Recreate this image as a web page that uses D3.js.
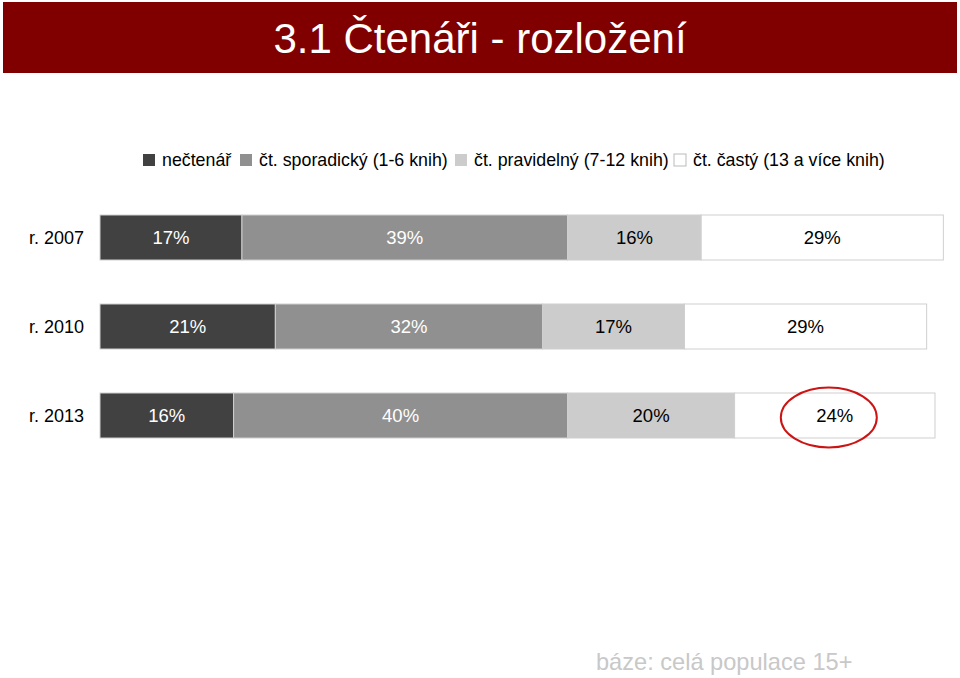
<!DOCTYPE html>
<html>
<head>
<meta charset="utf-8">
<script src="https://cdn.jsdelivr.net/npm/d3@7"></script>
<style>
  body { margin: 0; background: #fff; }
  svg { display: block; font-family: "Liberation Sans", Arial, sans-serif; }
</style>
</head>
<body>
<div id="chart"></div>
<script>
// Data
const years = ["r. 2007", "r. 2010", "r. 2013"];
const categories = ["nečtenář", "čt. sporadický (1-6 knih)", "čt. pravidelný (7-12 knih)", "čt. častý (13 a více knih)"];
const necteni = [17, 21, 16];
const sporadicky = [39, 32, 40];
const pravidelny = [16, 17, 20];
const casty = [29, 29, 24];
const titleText = "3.1 Čtenáři - rozložení";
const noteText = "báze: celá populace 15+";

const colors = ["#414141", "#909090", "#cccccc", "#ffffff"];
const labelColors = ["#ffffff", "#ffffff", "#000000", "#000000"];

const width = 960, height = 678;
const margin = { top: 215, left: 100, right: 25 };
const bh = 45;      // bar height
const step = 89;    // distance between bars

const svg = d3.select("#chart")
    .append("svg")
    .attr("width", width)
    .attr("height", height);

// Title band
svg.append("rect")
    .attr("x", 3).attr("y", 2)
    .attr("width", 954).attr("height", 71)
    .attr("fill", "#800000");

svg.append("text")
    .attr("x", width / 2)
    .attr("y", 53)
    .attr("text-anchor", "middle")
    .attr("fill", "#fff")
    .style("font-size", "42px")
    .text(titleText);

// Build stacked rows
const table = years.map((y, i) => ({
    year: y,
    necteni: necteni[i],
    sporadicky: sporadicky[i],
    pravidelny: pravidelny[i],
    casty: casty[i]
}));
const keys = ["necteni", "sporadicky", "pravidelny", "casty"];
const series = d3.stack().keys(keys)(table);

// Scales
const x = d3.scaleLinear()
    .domain([0, 100])
    .range([margin.left, 935]);

const y = d3.scaleBand()
    .domain(years)
    .range([margin.top, margin.top + step * (years.length - 1) + bh])
    .paddingInner(1 - bh / step)
    .paddingOuter(0);

// Legend
const legendX = [143, 240, 455, 674];
const legend = svg.append("g");
categories.forEach((c, i) => {
    legend.append("rect")
        .attr("x", legendX[i])
        .attr("y", 154)
        .attr("width", 12).attr("height", 12)
        .attr("fill", colors[i])
        .attr("stroke", i === 3 ? "#aaa" : "none")
        .attr("stroke-width", 0.8);
    legend.append("text")
        .attr("x", legendX[i] + 19)
        .attr("y", 166)
        .attr("fill", "#000")
        .style("font-size", "17.8px")
        .text(c);
});

// Bars
const layers = svg.append("g")
    .selectAll("g")
    .data(series)
    .join("g");

layers.selectAll("rect")
    .data(d => d.map(v => ({ v: v, key: d.key, idx: d.index })))
    .join("rect")
    .attr("x", d => x(d.v[0]))
    .attr("y", d => y(d.v.data.year))
    .attr("width", d => x(d.v[1]) - x(d.v[0]))
    .attr("height", y.bandwidth())
    .attr("fill", d => colors[d.idx])
    .attr("stroke", "#cfcfcf")
    .attr("stroke-width", 1);

layers.selectAll("text")
    .data(d => d.map(v => ({ v: v, key: d.key, idx: d.index })))
    .join("text")
    .attr("x", d => (x(d.v[0]) + x(d.v[1])) / 2)
    .attr("y", d => y(d.v.data.year) + y.bandwidth() / 2 + 6.5)
    .attr("text-anchor", "middle")
    .attr("fill", d => labelColors[d.idx])
    .style("font-size", "18.5px")
    .text(d => (d.v[1] - d.v[0]) + "%");

// Category labels
svg.append("g")
    .selectAll("text")
    .data(years)
    .join("text")
    .attr("x", 84)
    .attr("y", d => y(d) + y.bandwidth() / 2 + 6.5)
    .attr("text-anchor", "end")
    .attr("fill", "#000")
    .style("font-size", "18px")
    .text(d => d);

// Highlight ellipse around the last segment of 2013
const last = series[3][2];
svg.append("ellipse")
    .attr("cx", (x(last[0]) + x(last[1])) / 2 - 6)
    .attr("cy", y(years[2]) + y.bandwidth() / 2 + 2)
    .attr("rx", 48)
    .attr("ry", 30)
    .attr("fill", "none")
    .attr("stroke", "#cc1414")
    .attr("stroke-width", 2);

// Footnote
svg.append("text")
    .attr("x", 596)
    .attr("y", 670)
    .attr("fill", "#c8c8c8")
    .style("font-size", "23.6px")
    .text(noteText);
</script>
</body>
</html>
